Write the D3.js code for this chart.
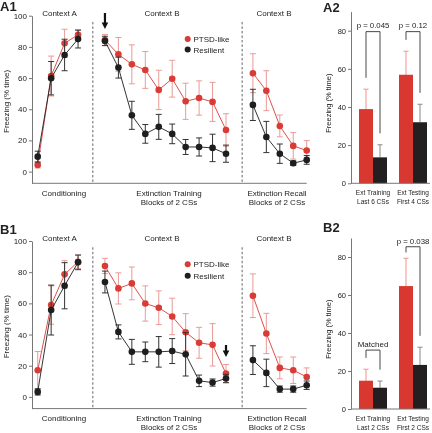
<!DOCTYPE html>
<html><head><meta charset="utf-8">
<script src="https://cdn.jsdelivr.net/npm/d3@7"></script>
<style>
body{margin:0;background:#fff}
svg{will-change:transform}
text{font-family:"Liberation Sans",Arial,Helvetica,sans-serif;fill:#222}
</style>
</head><body>
<svg id="c" width="432" height="433"></svg>
<script>
// ---------------- DATA ----------------
const seriesNames = ["PTSD-like", "Resilient"];
const yTicksLine = [0, 20, 40, 60, 80, 100];
const yTicksBar = [0, 20, 40, 60, 80];
const phaseLabels = [["Conditioning"], ["Extinction Training", "Blocks of 2 CSs"], ["Extinction Recall", "Blocks of 2 CSs"]];
const contextLabels = ["Context A", "Context B", "Context B"];

// A1
const a1CondPTSD = [4.3, 61.3, 82.3, 87.8];
const a1CondPTSDErr = [2, 12.8, 9, 3.2];
const a1CondRes = [9.6, 59.9, 74.8, 85];
const a1CondResErr = [3.5, 10.7, 10.1, 5.7];
const a1ExtPTSD = [84.4, 75.2, 68.8, 65.2, 52.4, 59.6, 45.1, 47.2, 44.7, 26.7];
const a1ExtPTSDErr = [3.5, 10.8, 12.5, 11.8, 12.6, 11.8, 11.6, 11, 12.5, 10.4];
const a1ExtRes = [83.8, 66.7, 36.1, 24.2, 28.7, 24.2, 15.8, 15.8, 15.2, 11.5];
const a1ExtResErr = [3, 6.7, 9, 6, 8, 6.3, 4.8, 5.8, 8.8, 5.5];
const a1RecPTSD = [63.1, 51.9, 29.3, 16.5, 13.5];
const a1RecPTSDErr = [12.5, 12.8, 7, 8.5, 6.4];
const a1RecRes = [42.8, 22.2, 11.5, 5.4, 7.5];
const a1RecResErr = [10, 10, 6.2, 1.5, 2.8];

// B1
const b1CondPTSD = [17.1, 58.9, 78.6, 86.7];
const b1CondPTSDErr = [12, 12.3, 8.8, 4.3];
const b1CondRes = [3.2, 55.7, 71.3, 86.3];
const b1CondResErr = [2, 16, 14.8, 4.7];
const b1ExtPTSD = [84, 69.6, 72.8, 59.9, 57.2, 51.6, 41.5, 34.7, 33.4, 15];
const b1ExtPTSDErr = [4.9, 10, 10.5, 11.3, 10.8, 11.7, 11.9, 9.9, 13.6, 5.8];
const b1ExtRes = [73.7, 41.7, 28.9, 28.9, 28.9, 29.4, 27.3, 10.3, 9.2, 11.8];
const b1ExtResErr = [7, 4.5, 8, 6.3, 9.8, 8, 13.9, 3.7, 2.3, 2.7];
const b1RecPTSD = [64.9, 40.7, 18.6, 17.1, 12.8];
const b1RecPTSDErr = [14, 12.9, 7, 8.5, 5.8];
const b1RecRes = [23.6, 15.4, 5, 5, 7.5];
const b1RecResErr = [9.2, 8.8, 2, 2, 2.7];

// A2 / B2
const a2Groups = [["Ext Training", "Last 6 CSs"], ["Ext Testing", "First 4 CSs"]];
const a2PTSD = [38.9, 56.9];
const a2PTSDErr = [10.4, 12.3];
const a2Res = [13.6, 32];
const a2ResErr = [6.6, 9.4];
const a2Brackets = ["p = 0.045", "p = 0.12"];
const a2BracketLevel = [79.5, 79.5];

const b2Groups = [["Ext Training", "Last 2 CSs"], ["Ext Testing", "First 2 CSs"]];
const b2PTSD = [14.9, 64.7];
const b2PTSDErr = [6, 14.6];
const b2Res = [11.2, 23.2];
const b2ResErr = [3.5, 9.3];
const b2Brackets = ["Matched", "p = 0.038"];
const b2BracketLevel = [31, 85.4];

// ---------------- STYLE ----------------
const RED = "#d93c36", RED_ERR = "#eb9a95", BLK = "#1e1e1e", BLK_ERR = "#333";
const BAR_RED = "#d8382f", BAR_BLK = "#231f20", BAR_RED_ERR = "#f1a39d", BAR_BLK_ERR = "#9a9a9a";
const AXIS = "#777";

const svg = d3.select("#c");
svg.append("rect").attr("width", 432).attr("height", 433).attr("fill", "#fff");

// ---------------- LINE PANELS ----------------
const condIdx = d3.range(0, 4), extIdx = d3.range(5, 15), recIdx = d3.range(16, 21);
const xL = d3.scaleLinear().domain([0, 20]).range([37.7, 306.7]);

function linePanel(top, cfg) {
  const y = d3.scaleLinear().domain([-7.5, 100]).range([top + 168.3, top + 0.7]);
  const g = svg.append("g");
  const base = y(-7.5);

  const ax = g.append("g").attr("transform", "translate(32,0)")
    .call(d3.axisLeft(y).tickValues(yTicksLine).tickSize(3).tickSizeOuter(0).tickPadding(2));
  ax.selectAll("path,line").attr("stroke", AXIS);
  ax.selectAll("text").attr("font-size", 8).attr("fill", "#222").attr("font-family", '"Liberation Sans",Arial,sans-serif');
  g.append("line").attr("x1", 32).attr("x2", xL(20)).attr("y1", base).attr("y2", base).attr("stroke", AXIS);

  [4.1, 15.2].forEach(k => {
    g.append("line").attr("x1", xL(k)).attr("x2", xL(k)).attr("y1", y(96)).attr("y2", base)
      .attr("stroke", "#555").attr("stroke-width", 0.9).attr("stroke-dasharray", "2.5,2");
  });

  g.append("text").attr("transform", `translate(9,${y(45)}) rotate(-90)`).attr("text-anchor", "middle")
    .attr("font-size", 8).text("Freezing (% time)");

  const ctxX = [59.5, 162, 274];
  contextLabels.forEach((t, i) => g.append("text").attr("x", ctxX[i]).attr("y", top + 0.5)
    .attr("text-anchor", "middle").attr("font-size", 8).text(t));

  const phX = [64, 169, 277];
  phaseLabels.forEach((lines, i) => lines.forEach((t, j) =>
    g.append("text").attr("x", phX[i]).attr("y", base + 12.2 + j * 9).attr("text-anchor", "middle")
      .attr("font-size", 8).text(t)));

  const groups = [
    [condIdx, cfg.condP, cfg.condPE, cfg.condR, cfg.condRE],
    [extIdx, cfg.extP, cfg.extPE, cfg.extR, cfg.extRE],
    [recIdx, cfg.recP, cfg.recPE, cfg.recR, cfg.recRE]
  ];
  const line = d3.line().x(d => xL(d[0])).y(d => y(d[1]));

  function drawSeries(idx, vals, errs, col, ecol) {
    const pts = idx.map((k, i) => [k, vals[i], errs[i]]);
    const eg = g.append("g").attr("stroke", ecol).attr("stroke-width", 1);
    pts.forEach(p => {
      eg.append("line").attr("x1", xL(p[0])).attr("x2", xL(p[0])).attr("y1", y(p[1] - p[2])).attr("y2", y(p[1] + p[2]));
      [p[1] - p[2], p[1] + p[2]].forEach(v => eg.append("line").attr("x1", xL(p[0]) - 3).attr("x2", xL(p[0]) + 3)
        .attr("y1", y(v)).attr("y2", y(v)));
    });
    g.append("path").datum(pts).attr("d", line).attr("fill", "none").attr("stroke", col).attr("stroke-width", 0.9);
    g.selectAll(null).data(pts).enter().append("circle").attr("cx", d => xL(d[0])).attr("cy", d => y(d[1]))
      .attr("r", 3.3).attr("fill", col);
  }
  groups.forEach(gr => drawSeries(gr[0], gr[1], gr[2], RED, RED_ERR));
  groups.forEach(gr => drawSeries(gr[0], gr[3], gr[4], BLK, BLK_ERR));

  const legY = [cfg.legY, cfg.legY + cfg.legGap];
  [RED, BLK].forEach((c, i) => {
    g.append("circle").attr("cx", 187.7).attr("cy", legY[i]).attr("r", 3).attr("fill", c);
    g.append("text").attr("x", 193.5).attr("y", legY[i] + 3).attr("font-size", 8).text(seriesNames[i]);
  });

  const ax0 = xL(cfg.arrowK);
  const tip = y(cfg.arrowVal + cfg.arrowErr) - cfg.arrowGap;
  const L = cfg.arrowLen;
  g.append("path").attr("d",
    `M${ax0 - 1.1},${tip - L} L${ax0 + 1.1},${tip - L} L${ax0 + 1.1},${tip - 6.5} L${ax0 + 3.3},${tip - 6.5} L${ax0},${tip} L${ax0 - 3.3},${tip - 6.5} L${ax0 - 1.1},${tip - 6.5} Z`)
    .attr("fill", "#111");
}

linePanel(15, {
  condP: a1CondPTSD, condPE: a1CondPTSDErr, condR: a1CondRes, condRE: a1CondResErr,
  extP: a1ExtPTSD, extPE: a1ExtPTSDErr, extR: a1ExtRes, extRE: a1ExtResErr,
  recP: a1RecPTSD, recPE: a1RecPTSDErr, recR: a1RecRes, recRE: a1RecResErr,
  legY: 39, legGap: 10.5, arrowK: 5, arrowVal: a1ExtPTSD[0], arrowErr: a1ExtPTSDErr[0], arrowGap: 5.5, arrowLen: 16
});
linePanel(240.3, {
  condP: b1CondPTSD, condPE: b1CondPTSDErr, condR: b1CondRes, condRE: b1CondResErr,
  extP: b1ExtPTSD, extPE: b1ExtPTSDErr, extR: b1ExtRes, extRE: b1ExtResErr,
  recP: b1RecPTSD, recPE: b1RecPTSDErr, recR: b1RecRes, recRE: b1RecResErr,
  legY: 264.3, legGap: 11.4, arrowK: 14, arrowVal: b1ExtPTSD[9], arrowErr: b1ExtPTSDErr[9], arrowGap: 7.5, arrowLen: 12
});

// ---------------- BAR PANELS ----------------
function barPanel(zeroY, topY, groups, P, PE, R, RE, brLabels, brLevel, brFont) {
  const g = svg.append("g");
  const y = d3.scaleLinear().domain([0, 90]).range([zeroY, topY]);
  const x0 = d3.scaleBand().domain([0, 1]).range([353, 433]).paddingInner(0.3).paddingOuter(0.15);
  const x1 = d3.scaleBand().domain([0, 1]).range([0, x0.bandwidth()]);

  const ax = g.append("g").attr("transform", "translate(351,0)")
    .call(d3.axisLeft(y).tickValues(yTicksBar).tickSize(3).tickSizeOuter(0).tickPadding(2));
  ax.selectAll("path,line").attr("stroke", AXIS);
  ax.selectAll("text").attr("font-size", 7.5).attr("fill", "#222").attr("font-family", '"Liberation Sans",Arial,sans-serif');

  g.append("text").attr("transform", `translate(331,${y(42)}) rotate(-90)`).attr("text-anchor", "middle")
    .attr("font-size", 7.5).text("Freezing (% time)");

  const series = [[P, PE, BAR_RED, BAR_RED_ERR], [R, RE, BAR_BLK, BAR_BLK_ERR]];
  series.forEach((s, si) => {
    s[0].forEach((v, gi) => {
      const bx = x0(gi) + x1(si), bw = x1.bandwidth(), cx = bx + bw / 2;
      g.append("line").attr("x1", cx).attr("x2", cx).attr("y1", y(v)).attr("y2", y(v + s[1][gi]))
        .attr("stroke", s[3]).attr("stroke-width", 1.2);
      g.append("line").attr("x1", cx - 2.5).attr("x2", cx + 2.5).attr("y1", y(v + s[1][gi])).attr("y2", y(v + s[1][gi]))
        .attr("stroke", s[3]).attr("stroke-width", 1.2);
      g.append("rect").attr("x", bx).attr("y", y(v)).attr("width", bw).attr("height", y(0) - y(v)).attr("fill", s[2]);
    });
  });
  g.append("line").attr("x1", 351).attr("x2", 430).attr("y1", y(0)).attr("y2", y(0)).attr("stroke", AXIS);

  groups.forEach((lines, gi) => lines.forEach((t, j) =>
    g.append("text").attr("x", x0(gi) + x0.bandwidth() / 2).attr("y", y(0) + 11.5 + j * 9)
      .attr("text-anchor", "middle").attr("font-size", 6.5).text(t)));

  brLabels.forEach((lab, gi) => {
    const lx = x0(gi) + x1(0) + x1.bandwidth() / 2, rx = x0(gi) + x1(1) + x1.bandwidth() / 2;
    const lv = Math.min(P[gi] + PE[gi] + 6, brLevel[gi] - 3);
    const rv = Math.min(R[gi] + RE[gi] + 6, brLevel[gi] - 3);
    g.append("path").attr("d", `M${lx},${y(lv)} V${y(brLevel[gi])} H${rx} V${y(rv)}`)
      .attr("fill", "none").attr("stroke", "#333").attr("stroke-width", 0.9);
    g.append("text").attr("x", (lx + rx) / 2).attr("y", y(brLevel[gi]) - 3.2).attr("text-anchor", "middle")
      .attr("font-size", brFont[gi]).text(lab);
  });
}
barPanel(183.3, 11.6, a2Groups, a2PTSD, a2PTSDErr, a2Res, a2ResErr, a2Brackets, a2BracketLevel, [7.8, 7.8]);
barPanel(409, 238, b2Groups, b2PTSD, b2PTSDErr, b2Res, b2ResErr, b2Brackets, b2BracketLevel, [8, 7.8]);

// ---------------- PANEL LABELS ----------------
[["A1", 0, 11], ["A2", 323, 11.7], ["B1", 0, 234.3], ["B2", 323, 232]].forEach(d =>
  svg.append("text").attr("x", d[1]).attr("y", d[2]).attr("font-size", 13).attr("font-weight", "bold")
    .attr("fill", "#000").text(d[0]));
</script>
</body></html>
